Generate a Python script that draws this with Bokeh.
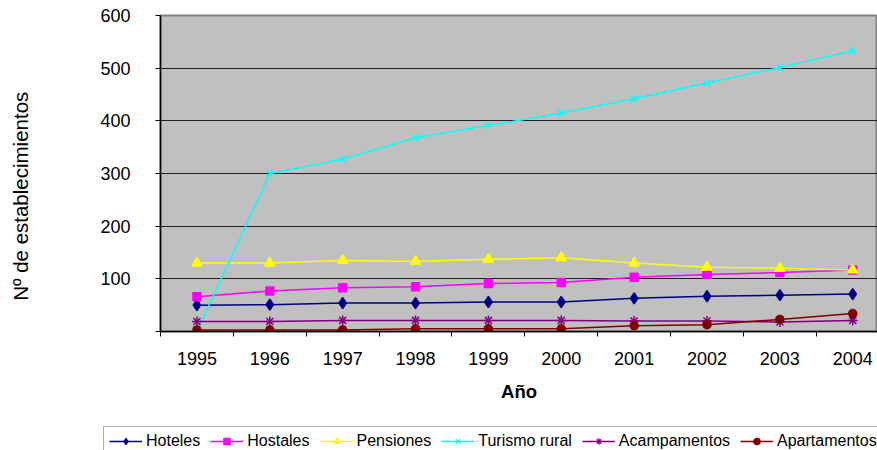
from bokeh.plotting import figure
from bokeh.models import Range1d, FixedTicker, Legend, LegendItem
from bokeh.embed import file_html
from bokeh.resources import INLINE

years = [1995, 1996, 1997, 1998, 1999, 2000, 2001, 2002, 2003, 2004]
hoteles = [50, 51, 54, 54, 56, 56, 63, 67, 69, 71]
hostales = [66, 77, 83, 85, 91, 93, 103, 108, 112, 117]
pensiones = [130, 130, 135, 133, 137, 140, 130, 122, 120, 117]
turismo_rural = [0, 300, 327, 368, 391, 415, 442, 472, 501, 533]
acampamentos = [19, 19, 21, 21, 21, 21, 20, 20, 18, 21]
apartamentos = [3, 3, 3, 5, 5, 5, 11, 13, 23, 34]
y_ticks = [0, 100, 200, 300, 400, 500, 600]

FONT = "Liberation Sans"

p = figure(width=877, height=426, output_backend="svg", toolbar_location=None,
           x_range=Range1d(1994.5, 2004.34), y_range=Range1d(0, 600),
           min_border_left=160, min_border_right=0, min_border_top=15, min_border_bottom=95)
p.border_fill_color = "white"
p.background_fill_color = "#C0C0C0"
p.outline_line_color = "#808080"
p.outline_line_width = 2

# axes
p.xaxis.ticker = FixedTicker(ticks=years, minor_ticks=[y - 0.5 for y in years] + [2004.5])
p.xaxis.major_tick_out = 0
p.xaxis.major_tick_in = 0
p.xaxis.minor_tick_out = 5
p.xaxis.minor_tick_in = 0
p.xaxis.minor_tick_line_color = "black"
p.xaxis.axis_line_color = "black"
p.xaxis.axis_line_width = 1.5
p.xaxis.major_label_standoff = 15
p.xaxis.major_label_text_font = FONT
p.xaxis.major_label_text_font_size = "18px"
p.xaxis.major_label_text_color = "black"
p.xaxis.axis_label = "Año"
p.xaxis.axis_label_text_font = FONT
p.xaxis.axis_label_text_font_style = "bold"
p.xaxis.axis_label_text_font_size = "18.5px"
p.xaxis.axis_label_text_color = "black"
p.xaxis.axis_label_standoff = 13

p.yaxis.ticker = FixedTicker(ticks=y_ticks, minor_ticks=[])
p.yaxis.major_label_overrides = {0: ""}
p.yaxis.major_tick_out = 5
p.yaxis.major_tick_in = 0
p.yaxis.major_tick_line_color = "black"
p.yaxis.axis_line_color = "black"
p.yaxis.axis_line_width = 1.5
p.yaxis.major_label_standoff = 25
p.yaxis.major_label_text_font = FONT
p.yaxis.major_label_text_font_size = "18px"
p.yaxis.major_label_text_color = "black"
# trailing no-break spaces shift the centred, rotated title down like the original
p.yaxis.axis_label = "Nº de establecimientos" + "\u00a0" * 8
p.yaxis.axis_label_text_font = FONT
p.yaxis.axis_label_text_font_style = "normal"
p.yaxis.axis_label_text_font_size = "20.5px"
p.yaxis.axis_label_text_color = "black"
p.yaxis.axis_label_standoff = 65

p.xgrid.grid_line_color = None
p.ygrid.grid_line_color = "#202020"
p.ygrid.grid_line_width = 1.2

series = [
    ("Hoteles", hoteles, "#000080", "diamond", 11),
    ("Hostales", hostales, "#FF00FF", "square", 8),
    ("Pensiones", pensiones, "#FFFF00", "triangle", 10),
    ("Turismo rural", turismo_rural, "#00FFFF", "x", 9),
    ("Acampamentos", acampamentos, "#800080", "asterisk", 10),
    ("Apartamentos", apartamentos, "#800000", "circle", 8),
]

# legend-only strip below the chart
lg = figure(width=877, height=24, output_backend="svg", toolbar_location=None,
            x_range=Range1d(0, 1), y_range=Range1d(0, 1),
            x_axis_location=None, y_axis_location=None,
            min_border_left=0, min_border_right=0, min_border_top=0, min_border_bottom=0)
lg.outline_line_color = None
lg.xgrid.grid_line_color = None
lg.ygrid.grid_line_color = None
lg.background_fill_color = "white"
lg.border_fill_color = "white"

items = []
for name, vals, color, marker, size in series:
    p.line(years, vals, line_color=color, line_width=1.5)
    p.scatter(years, vals, marker=marker, size=size, fill_color=color,
              line_color=color, line_width=1.5)
    # same series drawn outside the strip's visible range, only for its legend entry
    r1 = lg.line(years, vals, line_color=color, line_width=1.5)
    r2 = lg.scatter(years, vals, marker=marker, size=7, fill_color=color,
                    line_color=color, line_width=1.2)
    items.append(LegendItem(label=name, renderers=[r1, r2]))

legend = Legend(items=items, orientation="horizontal", location=(103, -6))
legend.label_text_font = FONT
legend.label_text_font_size = "16px"
legend.label_text_color = "black"
legend.glyph_width = 33
legend.glyph_height = 16
legend.label_height = 18
legend.label_standoff = 4
legend.spacing = 10
legend.padding = 5
legend.margin = 0
legend.border_line_color = "#606060"
legend.border_line_width = 1.5
legend.background_fill_color = "white"
legend.background_fill_alpha = 1
lg.add_layout(legend, "center")

open("out.html", "w").write(file_html([p, lg], INLINE))
